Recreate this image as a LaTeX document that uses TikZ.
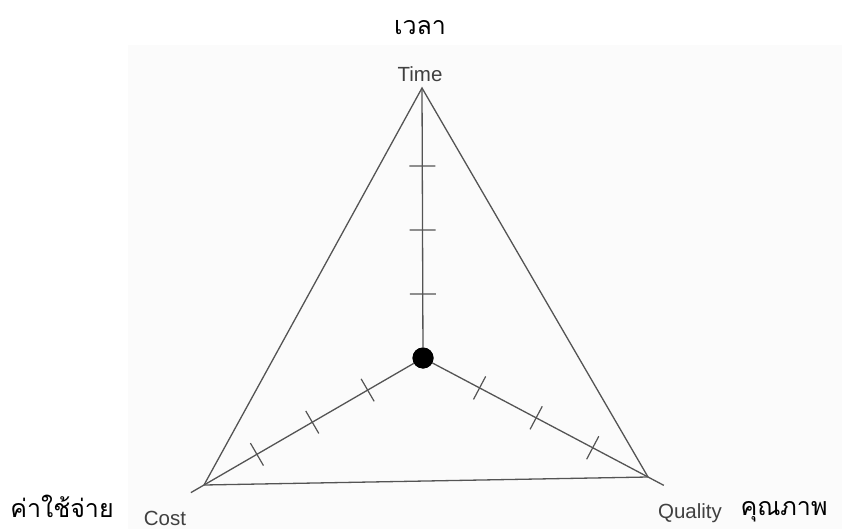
\documentclass[tikz,border=0pt]{standalone}
\usepackage{fontspec}
\setmainfont{Liberation Sans}
\newfontfamily\thaifont[Script=Thai]{Loma}
\usetikzlibrary{positioning,calc}
\definecolor{colscan}{rgb}{0.33,0.33,0.33}
\definecolor{coltext}{rgb}{0.25,0.25,0.25}

\begin{document}
\begin{tikzpicture}[x=1pt,y=-1pt,
    axis/.style={colscan,line width=1.3pt},
    tick/.style={colscan,line width=1.2pt},
    eng/.style={coltext,font=\fontsize{20.5}{22}\selectfont,inner sep=0pt},
    thai/.style={black,font=\thaifont\fontsize{25}{28}\selectfont,inner sep=0pt,text depth=0pt}]
    \useasboundingbox (0,0) rectangle (842,529);
    \fill[black!1.5] (128,45) rectangle (842,529);
    % corners and centre
    \coordinate (time) at (422,88);
    \coordinate (cost) at (204,485);
    \coordinate (quality) at (648,477);
    \node[circle,fill=black,inner sep=0pt,minimum size=21pt] (c) at (423,358) {};
    \draw[axis] (time) -- (cost) -- (quality) -- cycle;
    \draw[axis] (c) -- (time);
    \draw[axis] (c) -- ($(c)!1.06!(cost)$);
    \draw[axis] (c) -- ($(c)!1.07!(quality)$);
    \foreach \v in {time,cost,quality}
      \foreach \d in {64,128,192} {
        \coordinate (t) at ($(c.center)!\d pt!(\v)$);
        \draw[tick] ($(t)!13pt!90:(\v)$) -- ($(t)!13pt!-90:(\v)$);
      }
    \node[circle,fill=black,inner sep=0pt,minimum size=21pt] at (c) {};
    % labels
    \node[eng] (timelbl) at (420,74) {Time};
    \node[eng] (costlbl) at (165,518) {Cost};
    \node[eng] (qualitylbl) at (690,513) {Quality};
    \node[thai] (timeth) at (420,27) {เวลา};
    \node[thai,anchor=base] (costth) at (62,517) {ค่าใช้จ่าย};
    \node[thai,anchor=base] (qualityth) at (784,515) {คุณภาพ};
  \end{tikzpicture}
\end{document}
